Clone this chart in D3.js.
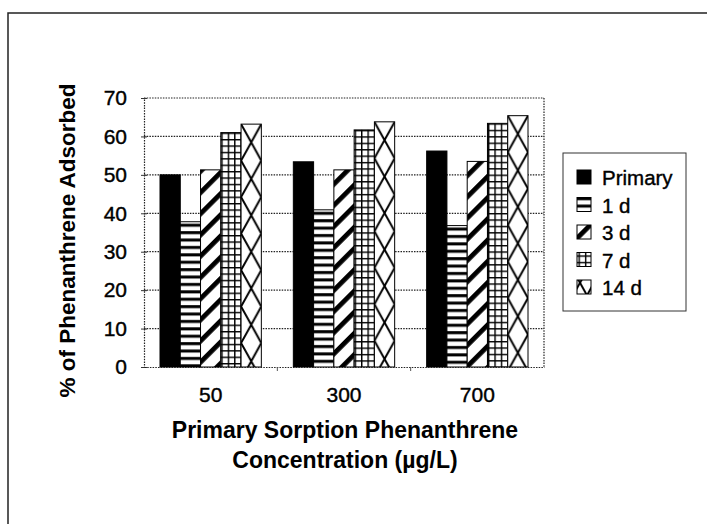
<!DOCTYPE html>
<html>
<head>
<meta charset="utf-8">
<script src="https://cdnjs.cloudflare.com/ajax/libs/d3/7.8.5/d3.min.js"></script>
<style>
  body { margin: 0; background: #fff; }
  text { font-family: "Liberation Sans", Arial, sans-serif; fill: #000; }
</style>
</head>
<body>
<div id="chart"></div>
<script>
var categories = ["50", "300", "700"];
var seriesNames = ["Primary", "1 d", "3 d", "7 d", "14 d"];
var primaryVals = [50, 53.4, 56.2];
var day1Vals = [37.8, 40.9, 36.8];
var day3Vals = [51.3, 51.3, 53.5];
var day7Vals = [61, 61.7, 63.4];
var day14Vals = [63.2, 63.8, 65.4];
var yTicks = [0, 10, 20, 30, 40, 50, 60, 70];

(function() {
    var seriesVals = [primaryVals, day1Vals, day3Vals, day7Vals, day14Vals];

    var width = 707, height = 524;
    var plotLeft = 144, plotRight = 544, plotTop = 98, plotBottom = 367;

    var svg = d3.select("#chart")
        .append("svg")
        .attr("width", width)
        .attr("height", height);

    var defs = svg.append("defs");

    // page frame (only top and left edges are visible in the scan)
    svg.append("path")
        .attr("d", "M8,524 L8,13 L707,13")
        .attr("fill", "none")
        .attr("stroke", "#222")
        .attr("stroke-width", 1.5);

    var x0 = d3.scaleBand().domain(categories).range([plotLeft, plotRight])
        .paddingInner(0.24).paddingOuter(0.12);
    var x1 = d3.scaleBand().domain(seriesNames).range([0, x0.bandwidth()]);
    var y = d3.scaleLinear().domain([0, 70]).range([plotBottom, plotTop]);

    // one pattern per mark so it lines up with the mark's left edge
    function makePattern(id, s, px, py, w) {
        var p;
        if (s == 0) {
            return "#000";
        } else if (s == 1) {
            p = defs.append("pattern").attr("id", id)
                .attr("patternUnits", "userSpaceOnUse")
                .attr("x", px).attr("y", py).attr("width", 20).attr("height", 7.4);
            p.append("rect").attr("width", 20).attr("height", 7.4).attr("fill", "#fff");
            p.append("rect").attr("y", 2).attr("width", 20).attr("height", 3).attr("fill", "#000");
        } else if (s == 2) {
            p = defs.append("pattern").attr("id", id)
                .attr("patternUnits", "userSpaceOnUse")
                .attr("x", px).attr("y", py).attr("width", 15).attr("height", 15)
                .attr("patternTransform", "rotate(45)");
            p.append("rect").attr("width", 15).attr("height", 15).attr("fill", "#fff");
            p.append("rect").attr("x", 0).attr("width", 4.8).attr("height", 15).attr("fill", "#000");
        } else if (s == 3) {
            p = defs.append("pattern").attr("id", id)
                .attr("patternUnits", "userSpaceOnUse")
                .attr("x", px + 0.5).attr("y", py).attr("width", 6.4).attr("height", 6.4);
            p.append("rect").attr("width", 6.4).attr("height", 6.4).attr("fill", "#fff");
            p.append("rect").attr("width", 1.4).attr("height", 6.4).attr("fill", "#000");
            p.append("rect").attr("width", 6.4).attr("height", 1.4).attr("fill", "#000");
        } else {
            var h = w * 3.6;
            p = defs.append("pattern").attr("id", id)
                .attr("patternUnits", "userSpaceOnUse")
                .attr("x", px).attr("y", py).attr("width", w).attr("height", h);
            p.append("rect").attr("width", w).attr("height", h).attr("fill", "#fff");
            p.append("path")
                .attr("d", "M0,0 L" + w + "," + (h / 2) + " L0," + h +
                    " M" + w + ",0 L0," + (h / 2) + " L" + w + "," + h)
                .attr("fill", "none")
                .attr("stroke", "#000")
                .attr("stroke-width", 2);
        }
        return "url(#" + id + ")";
    }

    // gridlines
    svg.append("g")
        .selectAll("line")
        .data(yTicks.filter(function(d) { return d > 0; }))
        .enter().append("line")
        .attr("x1", plotLeft).attr("x2", plotRight)
        .attr("y1", function(d) { return y(d); })
        .attr("y2", function(d) { return y(d); })
        .attr("stroke", "#222")
        .attr("stroke-width", 1.2)
        .attr("stroke-dasharray", "1.5,1.2");

    // right border, dotted like the grid
    svg.append("line")
        .attr("x1", plotRight).attr("x2", plotRight)
        .attr("y1", plotTop).attr("y2", plotBottom)
        .attr("stroke", "#222")
        .attr("stroke-width", 1.2)
        .attr("stroke-dasharray", "1.5,1.2");

    // bars
    var barData = [];
    categories.forEach(function(c, i) {
        seriesNames.forEach(function(s, j) {
            barData.push({ cat: c, series: s, idx: j, value: seriesVals[j][i] });
        });
    });

    svg.append("g")
        .selectAll("rect")
        .data(barData)
        .enter().append("rect")
        .attr("x", function(d) { return x0(d.cat) + x1(d.series); })
        .attr("y", function(d) { return y(d.value); })
        .attr("width", x1.bandwidth())
        .attr("height", function(d) { return y(0) - y(d.value); })
        .attr("fill", function(d, i) {
            return makePattern("bar" + i, d.idx, x0(d.cat) + x1(d.series), y(d.value), x1.bandwidth());
        })
        .attr("stroke", "#000")
        .attr("stroke-width", 1);

    // y axis
    var yAxis = svg.append("g")
        .attr("transform", "translate(" + plotLeft + ",0)")
        .call(d3.axisLeft(y).tickValues(yTicks).tickSize(3).tickPadding(14));
    yAxis.select(".domain")
        .attr("stroke", "#222")
        .attr("stroke-width", 1.2)
        .attr("stroke-dasharray", "1.5,1.2");
    yAxis.selectAll(".tick line").attr("stroke", "#333").attr("x2", 3).attr("x1", -3);
    yAxis.selectAll(".tick text")
        .attr("font-size", 21)
        .attr("font-family", "Liberation Sans, Arial, sans-serif")
        .attr("fill", "#000")
        .attr("stroke", "#000")
        .attr("stroke-width", 0.4);

    // x axis
    var xAxis = svg.append("g")
        .attr("transform", "translate(0," + plotBottom + ")")
        .call(d3.axisBottom(x0).tickSize(0).tickPadding(20));
    xAxis.select(".domain")
        .attr("stroke", "#222")
        .attr("stroke-width", 1.2)
        .attr("stroke-dasharray", "1.5,1.2");
    xAxis.selectAll(".tick text")
        .attr("font-size", 21)
        .attr("font-family", "Liberation Sans, Arial, sans-serif")
        .attr("fill", "#000")
        .attr("stroke", "#000")
        .attr("stroke-width", 0.4);
    xAxis.selectAll(".sep")
        .data(categories.slice(1))
        .enter().append("line")
        .attr("class", "sep")
        .attr("x1", function(d) { return x0(d) - x0.step() * x0.paddingInner() / 2; })
        .attr("x2", function(d) { return x0(d) - x0.step() * x0.paddingInner() / 2; })
        .attr("y1", 0).attr("y2", 4)
        .attr("stroke", "#555");

    // axis titles
    svg.append("text")
        .attr("transform", "translate(75," + ((plotTop + plotBottom) / 2 + 8) + ") rotate(-90)")
        .attr("text-anchor", "middle")
        .attr("font-size", 22.5)
        .attr("font-weight", "bold")
        .text("% of Phenanthrene Adsorbed");

    svg.append("text")
        .attr("x", (plotLeft + plotRight) / 2 + 1)
        .attr("y", 438)
        .attr("text-anchor", "middle")
        .attr("font-size", 23)
        .attr("font-weight", "bold")
        .text("Primary Sorption Phenanthrene");

    svg.append("text")
        .attr("x", (plotLeft + plotRight) / 2 + 1)
        .attr("y", 468)
        .attr("text-anchor", "middle")
        .attr("font-size", 23)
        .attr("font-weight", "bold")
        .text("Concentration (\u00b5g/L)");

    // legend
    var legend = svg.append("g").attr("transform", "translate(563,153)");
    legend.append("rect")
        .attr("width", 123)
        .attr("height", 158)
        .attr("fill", "#fff")
        .attr("stroke", "#333")
        .attr("stroke-width", 1);

    var items = legend.selectAll(".item")
        .data(seriesNames)
        .enter().append("g")
        .attr("class", "item")
        .attr("transform", function(d, i) { return "translate(14," + (17 + i * 27.5) + ")"; });

    items.append("rect")
        .attr("width", 14)
        .attr("height", 14)
        .attr("fill", function(d, i) {
            return makePattern("leg" + i, i, 577, 170 + i * 27.5, 14);
        })
        .attr("stroke", "#000")
        .attr("stroke-width", 1);

    items.append("text")
        .attr("x", 25)
        .attr("y", 15)
        .attr("font-size", 20.5)
        .attr("stroke", "#000")
        .attr("stroke-width", 0.4)
        .text(function(d) { return d; });
})();
</script>
</body>
</html>
